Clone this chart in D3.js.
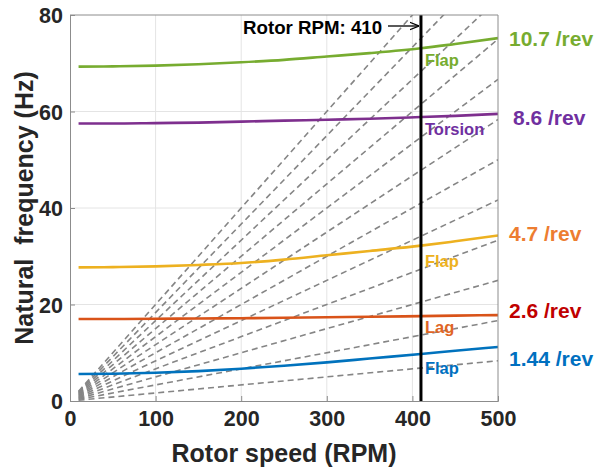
<!DOCTYPE html>
<html>
<head>
<meta charset="utf-8">
<script src="https://cdn.jsdelivr.net/npm/d3@7"></script>
<style>
  html, body { margin: 0; padding: 0; background: #fff; }
  svg { display: block; font-family: "Liberation Sans", Arial, Helvetica, sans-serif; }
</style>
</head>
<body>
<svg id="chart" width="595" height="469"></svg>
<script>
// Rotor speed samples (RPM) for the modal frequency curves
const rpm = [10, 50, 100, 150, 200, 250, 300, 350, 410, 450, 500];

// Natural frequencies (Hz) of each blade mode vs rotor speed
const flap1   = [5.6, 5.65, 5.85, 6.2, 6.7, 7.3, 8.0, 8.8, 9.75, 10.4, 11.2];
const lag1    = [17.0, 17.0, 17.05, 17.1, 17.15, 17.25, 17.35, 17.45, 17.6, 17.7, 17.8];
const flap2   = [27.7, 27.75, 27.9, 28.2, 28.6, 29.3, 30.2, 31.1, 32.2, 33.1, 34.3];
const torsion = [57.5, 57.5, 57.6, 57.7, 57.9, 58.1, 58.3, 58.5, 58.85, 59.1, 59.5];
const flap3   = [69.3, 69.35, 69.5, 69.8, 70.2, 70.7, 71.4, 72.1, 73.1, 74.0, 75.2];

// Per-rev excitation harmonics
const harmonics = [1, 2, 3, 4, 5, 6, 7, 8, 9, 10, 11, 12];
const rpmRange = [10, 500];

// Operating speed
const operatingRpm = 410;

// Tick labels
const xTicks = [0, 100, 200, 300, 400, 500];
const yTicks = [0, 20, 40, 60, 80];

// Mode names and their per-rev values at the operating speed
const modeNames = ["Flap", "Lag", "Flap", "Torsion", "Flap"];
const perRev = ["1.44 /rev", "2.6 /rev", "4.7 /rev", "8.6 /rev", "10.7 /rev"];

const modes = [
  { values: flap1,   line: "#0072BD", name: "#0070C0", rev: "#0070C0", nameDy: 20 },
  { values: lag1,    line: "#D95319", name: "#E06525", rev: "#C00000", nameDy: 17 },
  { values: flap2,   line: "#EDB120", name: "#EDB120", rev: "#ED7D31", nameDy: 21 },
  { values: torsion, line: "#7E2F8E", name: "#7030A0", rev: "#7030A0", nameDy: 18 },
  { values: flap3,   line: "#77AC30", name: "#77AC30", rev: "#77AC30", nameDy: 18 }
];
// vertical positions (Hz) of the right-hand per-rev labels
const revLabelHz = [7.3, 17.2, 33.2, 57.3, 73.5];

const svg = d3.select("#chart");
const margin = { left: 70, right: 97, top: 15, bottom: 68 };
const W = 595, H = 469;
const x = d3.scaleLinear().domain([0, 500]).range([margin.left, W - margin.right]);
const y = d3.scaleLinear().domain([0, 80]).range([H - margin.bottom, margin.top]);

const defs = svg.append("defs");
defs.append("clipPath").attr("id", "plot-clip")
  .append("rect")
  .attr("x", x(0)).attr("y", y(80))
  .attr("width", x(500) - x(0)).attr("height", y(0) - y(80));
defs.append("marker").attr("id", "arrowhead")
  .attr("viewBox", "0 0 10 10").attr("refX", 10).attr("refY", 5)
  .attr("markerWidth", 7).attr("markerHeight", 7).attr("orient", "auto")
  .append("path").attr("d", "M0,1 L10,5 L0,9").attr("fill", "none")
  .attr("stroke", "#000").attr("stroke-width", 1.4);

// grid
const grid = svg.append("g").attr("stroke", "#e4e4e4").attr("stroke-width", 1);
xTicks.slice(1, -1).forEach(t => grid.append("line")
  .attr("x1", x(t)).attr("x2", x(t)).attr("y1", y(0)).attr("y2", y(80)));
yTicks.slice(1, -1).forEach(t => grid.append("line")
  .attr("x1", x(0)).attr("x2", x(500)).attr("y1", y(t)).attr("y2", y(t)));

const plot = svg.append("g").attr("clip-path", "url(#plot-clip)");

// per-rev excitation lines
harmonics.forEach(n => {
  plot.append("line")
    .attr("x1", x(rpmRange[0])).attr("y1", y(n * rpmRange[0] / 60))
    .attr("x2", x(rpmRange[1])).attr("y2", y(n * rpmRange[1] / 60))
    .attr("stroke", "#858585").attr("stroke-width", 1.6)
    .attr("stroke-dasharray", "6,4");
});

// modal frequency curves
const line = d3.line().x(d => x(d[0])).y(d => y(d[1])).curve(d3.curveMonotoneX);
modes.forEach(m => {
  plot.append("path")
    .attr("d", line(rpm.map((r, i) => [r, m.values[i]])))
    .attr("fill", "none").attr("stroke", m.line).attr("stroke-width", 2.6);
});

// operating speed marker
svg.append("line")
  .attr("x1", x(operatingRpm)).attr("x2", x(operatingRpm))
  .attr("y1", y(80)).attr("y2", y(0))
  .attr("stroke", "#000").attr("stroke-width", 3);

// axes box
const axisColor = "#8c8c8c";
const axX = d3.axisBottom(x).tickValues(xTicks).tickSize(-5).tickPadding(10).tickFormat(d3.format("d"));
const axY = d3.axisLeft(y).tickValues(yTicks).tickSize(-5).tickPadding(7).tickFormat(d3.format("d"));
const gx = svg.append("g").attr("transform", `translate(0,${y(0)})`).call(axX);
const gy = svg.append("g").attr("transform", `translate(${x(0)},0)`).call(axY);
[gx, gy].forEach(g => {
  g.select(".domain").attr("stroke", axisColor).attr("stroke-width", 1);
  g.selectAll(".tick line").attr("stroke", axisColor);
  g.selectAll(".tick text")
    .attr("fill", "#262626").attr("font-size", 21.5).attr("font-weight", "bold")
    .attr("font-family", "'Liberation Sans', Arial, sans-serif");
});
gx.selectAll(".tick text").attr("dy", "0.72em");
gy.selectAll(".tick text").attr("dy", "0.36em");
svg.append("line").attr("x1", x(0)).attr("x2", x(500)).attr("y1", y(80)).attr("y2", y(80))
  .attr("stroke", axisColor);
svg.append("line").attr("x1", x(500)).attr("x2", x(500)).attr("y1", y(80)).attr("y2", y(0))
  .attr("stroke", axisColor);

// axis titles
svg.append("text")
  .attr("x", (x(0) + x(500)) / 2 + 0).attr("y", 462)
  .attr("text-anchor", "middle").attr("font-size", 25).attr("font-weight", "bold")
  .attr("fill", "#262626").text("Rotor speed (RPM)");
svg.append("text")
  .attr("transform", `translate(33,${(y(0) + y(80)) / 2}) rotate(-90)`)
  .attr("text-anchor", "middle").attr("font-size", 25).attr("font-weight", "bold")
  .attr("fill", "#262626").attr("xml:space", "preserve").text("Natural  frequency (Hz)");

// operating speed annotation
svg.append("text")
  .attr("x", 243).attr("y", 34)
  .attr("font-size", 18.7).attr("font-weight", "bold").attr("fill", "#000")
  .text(`Rotor RPM: ${operatingRpm}`);
svg.append("line")
  .attr("x1", 388).attr("x2", x(operatingRpm) - 2).attr("y1", 26).attr("y2", 26)
  .attr("stroke", "#000").attr("stroke-width", 1.3).attr("marker-end", "url(#arrowhead)");

// mode names next to the operating line
const opIdx = rpm.indexOf(operatingRpm);
modes.forEach((m, i) => {
  svg.append("text")
    .attr("x", x(operatingRpm) + 4).attr("y", y(m.values[opIdx]) + m.nameDy)
    .attr("font-size", 16.5).attr("font-weight", "bold").attr("fill", m.name)
    .text(modeNames[i]);
});

// per-rev values on the right
modes.forEach((m, i) => {
  svg.append("text")
    .attr("x", i === 3 ? 513 : 509).attr("y", y(revLabelHz[i]))
    .attr("font-size", 21).attr("font-weight", "bold").attr("fill", m.rev)
    .text(perRev[i]);
});
</script>
</body>
</html>
